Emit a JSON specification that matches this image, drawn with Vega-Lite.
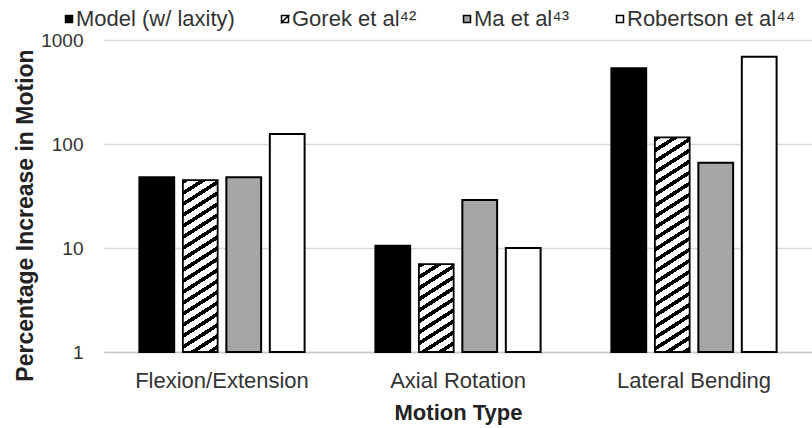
{
  "$schema": "https://vega.github.io/schema/vega-lite/v6.json",
  "width": 708,
  "height": 312,
  "autosize": {"type": "none"},
  "padding": {"left": 104, "top": 40, "right": 0, "bottom": 76},
  "background": "white",
  "config": {
    "view": {"stroke": null},
    "font": "Liberation Sans",
    "axis": {"labelFont": "Liberation Sans", "titleFont": "Liberation Sans", "labelColor": "#333333", "titleColor": "#222222"},
    "legend": {"labelFont": "Liberation Sans"}
  },
  "data": {
    "values": [
      {"motion": "Flexion/Extension", "study": "Model (w/ laxity)", "value": 48},
      {"motion": "Flexion/Extension", "study": "Gorek et al⁴²", "value": 45},
      {"motion": "Flexion/Extension", "study": "Ma et al⁴³", "value": 48},
      {"motion": "Flexion/Extension", "study": "Robertson et al⁴⁴", "value": 125},
      {"motion": "Axial Rotation", "study": "Model (w/ laxity)", "value": 10.5},
      {"motion": "Axial Rotation", "study": "Gorek et al⁴²", "value": 7},
      {"motion": "Axial Rotation", "study": "Ma et al⁴³", "value": 29},
      {"motion": "Axial Rotation", "study": "Robertson et al⁴⁴", "value": 10},
      {"motion": "Lateral Bending", "study": "Model (w/ laxity)", "value": 535},
      {"motion": "Lateral Bending", "study": "Gorek et al⁴²", "value": 116},
      {"motion": "Lateral Bending", "study": "Ma et al⁴³", "value": 66},
      {"motion": "Lateral Bending", "study": "Robertson et al⁴⁴", "value": 691}
    ]
  },
  "encoding": {
    "x": {
      "field": "motion", "type": "nominal",
      "sort": ["Flexion/Extension", "Axial Rotation", "Lateral Bending"],
      "scale": {"paddingInner": 0.3, "paddingOuter": 0.15},
      "title": "Motion Type",
      "axis": {
        "labelAngle": 0, "labelFontSize": 22, "labelBaseline": "alphabetic", "labelPadding": 35,
        "ticks": false, "tickSize": 0, "domain": true, "domainColor": "#c8c8c8", "domainWidth": 1.5,
        "titleFontSize": 22, "titleFontWeight": "bold", "titleBaseline": "alphabetic", "titleY": 67
      }
    },
    "xOffset": {
      "field": "study", "type": "nominal",
      "scale": {"domain": ["Model (w/ laxity)", "Gorek et al⁴²", "Ma et al⁴³", "Robertson et al⁴⁴"], "paddingInner": 0.2, "paddingOuter": 0}
    },
    "y": {
      "field": "value", "type": "quantitative",
      "scale": {"type": "log", "domain": [1, 1000]},
      "title": "Percentage Increase in Motion",
      "axis": {
        "values": [1, 10, 100, 1000], "format": "d",
        "labelFontSize": 19, "labelPadding": 21, "ticks": false, "tickSize": 0, "domain": false,
        "grid": true, "gridColor": "#d9d9d9", "gridWidth": 1.5,
        "titleFontSize": 23, "titleFontWeight": "bold", "titleAngle": -90,
        "titleX": -79, "titleY": 175, "titleAlign": "center", "titleBaseline": "middle"
      }
    },
    "y2": {"datum": 1}
  },
  "layer": [
    {
      "transform": [{"filter": {"not": {"field": "study", "equal": "Gorek et al⁴²"}}}],
      "mark": {"type": "bar", "stroke": "black", "strokeWidth": 2},
      "encoding": {
        "color": {
          "field": "study", "type": "nominal",
          "scale": {"domain": ["Model (w/ laxity)", "Gorek et al⁴²", "Ma et al⁴³", "Robertson et al⁴⁴"], "range": ["#000000", "#ffffff", "#a6a6a6", "#ffffff"]},
          "legend": {
            "title": null, "orient": "none", "direction": "horizontal", "legendX": -46, "legendY": -32,
            "padding": 0, "columnPadding": 39, "labelOffset": -4, "labelFontSize": 22, "labelColor": "#333333", "labelLimit": 0,
            "symbolType": "square", "symbolSize": 49, "symbolStrokeColor": "black", "symbolStrokeWidth": 1.5,
            "encode": {
              "symbols": {
                "update": {
                  "shape": {"signal": "indexof(datum.value, 'Gorek') >= 0 ? 'M-1,-1L1,-1L1,1L-1,1Z M-1,-1L-1,1L1,-1Z' : 'square'"},
                  "fill": {"signal": "indexof(datum.value, 'Gorek') >= 0 ? '#000000' : scale('color', datum.value)"},
                  "fillOpacity": {"value": 1},
                  "stroke": {"value": "black"},
                  "strokeWidth": {"value": 1.5},
                  "strokeOpacity": {"value": 1},
                  "size": {"value": 49},
                  "opacity": {"value": 1}
                }
              }
            }
          }
        }
      }
    },
    {
      "transform": [{"filter": {"and": [{"field": "study", "equal": "Gorek et al⁴²"}, {"field": "motion", "equal": "Flexion/Extension"}]}}],
      "mark": {
        "type": "bar", "stroke": "black", "strokeWidth": 1.8,
        "fill": {
          "gradient": "linear", "x1": 0, "y1": 0, "x2": 0.1438, "y2": 1.111,
          "stops": [
            {"offset": 0, "color": "#000"}, {"offset": 0.0226, "color": "#000"}, {"offset": 0.0226, "color": "#fff"}, {"offset": 0.0566, "color": "#fff"},
            {"offset": 0.0566, "color": "#000"}, {"offset": 0.0792, "color": "#000"}, {"offset": 0.0792, "color": "#fff"}, {"offset": 0.1132, "color": "#fff"},
            {"offset": 0.1132, "color": "#000"}, {"offset": 0.1358, "color": "#000"}, {"offset": 0.1358, "color": "#fff"}, {"offset": 0.1698, "color": "#fff"},
            {"offset": 0.1698, "color": "#000"}, {"offset": 0.1924, "color": "#000"}, {"offset": 0.1924, "color": "#fff"}, {"offset": 0.2264, "color": "#fff"},
            {"offset": 0.2264, "color": "#000"}, {"offset": 0.249, "color": "#000"}, {"offset": 0.249, "color": "#fff"}, {"offset": 0.283, "color": "#fff"},
            {"offset": 0.283, "color": "#000"}, {"offset": 0.3056, "color": "#000"}, {"offset": 0.3056, "color": "#fff"}, {"offset": 0.3396, "color": "#fff"},
            {"offset": 0.3396, "color": "#000"}, {"offset": 0.3622, "color": "#000"}, {"offset": 0.3622, "color": "#fff"}, {"offset": 0.3962, "color": "#fff"},
            {"offset": 0.3962, "color": "#000"}, {"offset": 0.4188, "color": "#000"}, {"offset": 0.4188, "color": "#fff"}, {"offset": 0.4528, "color": "#fff"},
            {"offset": 0.4528, "color": "#000"}, {"offset": 0.4754, "color": "#000"}, {"offset": 0.4754, "color": "#fff"}, {"offset": 0.5094, "color": "#fff"},
            {"offset": 0.5094, "color": "#000"}, {"offset": 0.532, "color": "#000"}, {"offset": 0.532, "color": "#fff"}, {"offset": 0.566, "color": "#fff"},
            {"offset": 0.566, "color": "#000"}, {"offset": 0.5886, "color": "#000"}, {"offset": 0.5886, "color": "#fff"}, {"offset": 0.6226, "color": "#fff"},
            {"offset": 0.6226, "color": "#000"}, {"offset": 0.6452, "color": "#000"}, {"offset": 0.6452, "color": "#fff"}, {"offset": 0.6792, "color": "#fff"},
            {"offset": 0.6792, "color": "#000"}, {"offset": 0.7018, "color": "#000"}, {"offset": 0.7018, "color": "#fff"}, {"offset": 0.7358, "color": "#fff"},
            {"offset": 0.7358, "color": "#000"}, {"offset": 0.7584, "color": "#000"}, {"offset": 0.7584, "color": "#fff"}, {"offset": 0.7924, "color": "#fff"},
            {"offset": 0.7924, "color": "#000"}, {"offset": 0.815, "color": "#000"}, {"offset": 0.815, "color": "#fff"}, {"offset": 0.849, "color": "#fff"},
            {"offset": 0.849, "color": "#000"}, {"offset": 0.8716, "color": "#000"}, {"offset": 0.8716, "color": "#fff"}, {"offset": 0.9056, "color": "#fff"},
            {"offset": 0.9056, "color": "#000"}, {"offset": 0.9282, "color": "#000"}, {"offset": 0.9282, "color": "#fff"}, {"offset": 0.9622, "color": "#fff"},
            {"offset": 0.9622, "color": "#000"}, {"offset": 0.9848, "color": "#000"}, {"offset": 0.9848, "color": "#fff"}, {"offset": 1, "color": "#fff"}
          ]
        }
      }
    },
    {
      "transform": [{"filter": {"and": [{"field": "study", "equal": "Gorek et al⁴²"}, {"field": "motion", "equal": "Axial Rotation"}]}}],
      "mark": {
        "type": "bar", "stroke": "black", "strokeWidth": 1.8,
        "fill": {
          "gradient": "linear", "x1": 0, "y1": 0, "x2": 0.2985, "y2": 1.178,
          "stops": [
            {"offset": 0, "color": "#000"}, {"offset": 0.04, "color": "#000"}, {"offset": 0.04, "color": "#fff"}, {"offset": 0.1, "color": "#fff"},
            {"offset": 0.1, "color": "#000"}, {"offset": 0.14, "color": "#000"}, {"offset": 0.14, "color": "#fff"}, {"offset": 0.2, "color": "#fff"},
            {"offset": 0.2, "color": "#000"}, {"offset": 0.24, "color": "#000"}, {"offset": 0.24, "color": "#fff"}, {"offset": 0.3, "color": "#fff"},
            {"offset": 0.3, "color": "#000"}, {"offset": 0.34, "color": "#000"}, {"offset": 0.34, "color": "#fff"}, {"offset": 0.4, "color": "#fff"},
            {"offset": 0.4, "color": "#000"}, {"offset": 0.44, "color": "#000"}, {"offset": 0.44, "color": "#fff"}, {"offset": 0.5, "color": "#fff"},
            {"offset": 0.5, "color": "#000"}, {"offset": 0.54, "color": "#000"}, {"offset": 0.54, "color": "#fff"}, {"offset": 0.6, "color": "#fff"},
            {"offset": 0.6, "color": "#000"}, {"offset": 0.64, "color": "#000"}, {"offset": 0.64, "color": "#fff"}, {"offset": 0.7, "color": "#fff"},
            {"offset": 0.7, "color": "#000"}, {"offset": 0.74, "color": "#000"}, {"offset": 0.74, "color": "#fff"}, {"offset": 0.8, "color": "#fff"},
            {"offset": 0.8, "color": "#000"}, {"offset": 0.84, "color": "#000"}, {"offset": 0.84, "color": "#fff"}, {"offset": 0.9, "color": "#fff"},
            {"offset": 0.9, "color": "#000"}, {"offset": 0.94, "color": "#000"}, {"offset": 0.94, "color": "#fff"}, {"offset": 1, "color": "#fff"}
          ]
        }
      }
    },
    {
      "transform": [{"filter": {"and": [{"field": "study", "equal": "Gorek et al⁴²"}, {"field": "motion", "equal": "Lateral Bending"}]}}],
      "mark": {
        "type": "bar", "stroke": "black", "strokeWidth": 1.8,
        "fill": {
          "gradient": "linear", "x1": 0, "y1": 0, "x2": 0.1133, "y2": 1.0921,
          "stops": [
            {"offset": 0, "color": "#000"}, {"offset": 0.0186, "color": "#000"}, {"offset": 0.0186, "color": "#fff"}, {"offset": 0.0465, "color": "#fff"},
            {"offset": 0.0465, "color": "#000"}, {"offset": 0.0651, "color": "#000"}, {"offset": 0.0651, "color": "#fff"}, {"offset": 0.093, "color": "#fff"},
            {"offset": 0.093, "color": "#000"}, {"offset": 0.1116, "color": "#000"}, {"offset": 0.1116, "color": "#fff"}, {"offset": 0.1395, "color": "#fff"},
            {"offset": 0.1395, "color": "#000"}, {"offset": 0.1581, "color": "#000"}, {"offset": 0.1581, "color": "#fff"}, {"offset": 0.186, "color": "#fff"},
            {"offset": 0.186, "color": "#000"}, {"offset": 0.2046, "color": "#000"}, {"offset": 0.2046, "color": "#fff"}, {"offset": 0.2325, "color": "#fff"},
            {"offset": 0.2325, "color": "#000"}, {"offset": 0.2511, "color": "#000"}, {"offset": 0.2511, "color": "#fff"}, {"offset": 0.279, "color": "#fff"},
            {"offset": 0.279, "color": "#000"}, {"offset": 0.2976, "color": "#000"}, {"offset": 0.2976, "color": "#fff"}, {"offset": 0.3255, "color": "#fff"},
            {"offset": 0.3255, "color": "#000"}, {"offset": 0.3441, "color": "#000"}, {"offset": 0.3441, "color": "#fff"}, {"offset": 0.372, "color": "#fff"},
            {"offset": 0.372, "color": "#000"}, {"offset": 0.3906, "color": "#000"}, {"offset": 0.3906, "color": "#fff"}, {"offset": 0.4185, "color": "#fff"},
            {"offset": 0.4185, "color": "#000"}, {"offset": 0.4371, "color": "#000"}, {"offset": 0.4371, "color": "#fff"}, {"offset": 0.465, "color": "#fff"},
            {"offset": 0.465, "color": "#000"}, {"offset": 0.4836, "color": "#000"}, {"offset": 0.4836, "color": "#fff"}, {"offset": 0.5115, "color": "#fff"},
            {"offset": 0.5115, "color": "#000"}, {"offset": 0.5301, "color": "#000"}, {"offset": 0.5301, "color": "#fff"}, {"offset": 0.558, "color": "#fff"},
            {"offset": 0.558, "color": "#000"}, {"offset": 0.5766, "color": "#000"}, {"offset": 0.5766, "color": "#fff"}, {"offset": 0.6045, "color": "#fff"},
            {"offset": 0.6045, "color": "#000"}, {"offset": 0.6231, "color": "#000"}, {"offset": 0.6231, "color": "#fff"}, {"offset": 0.651, "color": "#fff"},
            {"offset": 0.651, "color": "#000"}, {"offset": 0.6696, "color": "#000"}, {"offset": 0.6696, "color": "#fff"}, {"offset": 0.6975, "color": "#fff"},
            {"offset": 0.6975, "color": "#000"}, {"offset": 0.7161, "color": "#000"}, {"offset": 0.7161, "color": "#fff"}, {"offset": 0.744, "color": "#fff"},
            {"offset": 0.744, "color": "#000"}, {"offset": 0.7626, "color": "#000"}, {"offset": 0.7626, "color": "#fff"}, {"offset": 0.7905, "color": "#fff"},
            {"offset": 0.7905, "color": "#000"}, {"offset": 0.8091, "color": "#000"}, {"offset": 0.8091, "color": "#fff"}, {"offset": 0.837, "color": "#fff"},
            {"offset": 0.837, "color": "#000"}, {"offset": 0.8556, "color": "#000"}, {"offset": 0.8556, "color": "#fff"}, {"offset": 0.8835, "color": "#fff"},
            {"offset": 0.8835, "color": "#000"}, {"offset": 0.9021, "color": "#000"}, {"offset": 0.9021, "color": "#fff"}, {"offset": 0.93, "color": "#fff"},
            {"offset": 0.93, "color": "#000"}, {"offset": 0.9486, "color": "#000"}, {"offset": 0.9486, "color": "#fff"}, {"offset": 0.9765, "color": "#fff"},
            {"offset": 0.9765, "color": "#000"}, {"offset": 0.9951, "color": "#000"}, {"offset": 0.9951, "color": "#fff"}, {"offset": 1, "color": "#fff"}
          ]
        }
      }
    }
  ]
}
